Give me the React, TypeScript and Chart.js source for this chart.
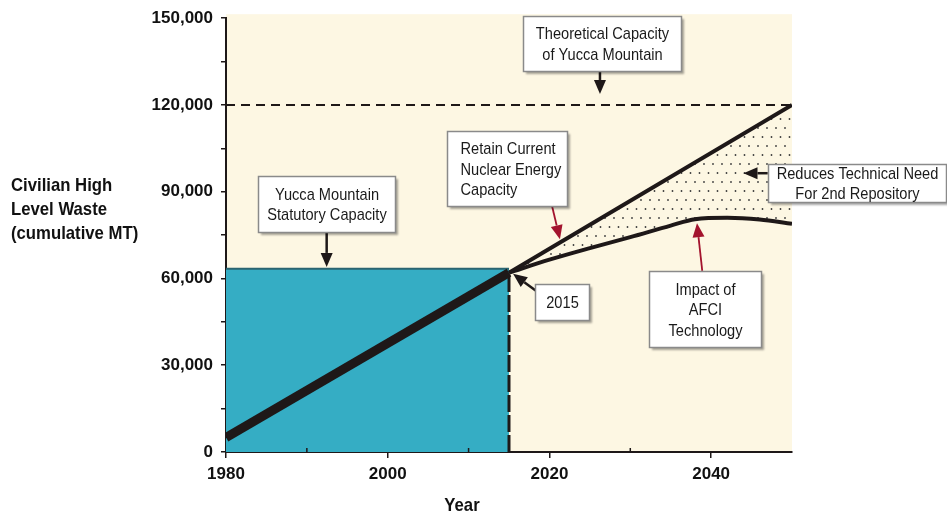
import React, { useEffect, useRef } from "react";
import { Chart, registerables } from "chart.js";

Chart.register(...registerables);

// ---- data ----
const historyYears = [1980, 2015];
const historyWaste = [5000, 62000];

const retainYears = [2015, 2050];
const retainWaste = [62000, 120000];

const afciYears = [2015, 2020, 2025, 2030, 2035, 2038, 2042, 2046, 2050];
const afciWaste = [62000, 66500, 70500, 74300, 78300, 80500, 81000, 80400, 78900];

const theoreticalYears = [1980, 2050];
const theoreticalCapacity = [120000, 120000];

const statutoryYears = [1980, 2015];
const statutoryCapacity = [63400, 63400];

const markerYears = [2015, 2015];
const markerWaste = [0, 62000];

const yLabelStep = 30000;
const xLabelYears = [1980, 2000, 2020, 2040];
const xMinorYears = [1990, 2010, 2030];

const yTitleLines = ["Civilian High", "Level Waste", "(cumulative MT)"];
const xTitle = "Year";

// annotations: box top-left anchored in data coords, arrow in data coords
const notes = [
  { lines: ["Theoretical Capacity", "of Yucca Mountain"], x: 2016.7, y: 150600, w: 158, h: 55, align: "center", from: [2026.25, 131700], to: [2026.25, 123800], red: false },
  { lines: ["Retain Current", "Nuclear Energy", "Capacity"], x: 2007.33, y: 111100, w: 120, h: 75, align: "left", from: [2020.3, 85300], to: [2021.3, 73600], red: true },
  { lines: ["Reduces Technical Need", "For 2nd Repository"], x: 2047.0, y: 99500, w: 178, h: 38, align: "center", from: [2047.0, 96400], to: [2044.0, 96400], red: false },
  { lines: ["Impact of", "AFCI", "Technology"], x: 2032.3, y: 62650, w: 112, h: 76, align: "center", from: [2038.9, 62650], to: [2038.25, 79100], red: true },
  { lines: ["2015"], x: 2018.2, y: 58100, w: 54, h: 36, align: "center", from: [2018.5, 55400], to: [2015.5, 61600], red: false },
  { lines: ["Yucca Mountain", "Statutory Capacity"], x: 1984.0, y: 95500, w: 137, h: 56, align: "center", from: [1992.45, 76400], to: [1992.45, 64000], red: false },
];

const FONT = "'Liberation Sans', Arial, sans-serif";
const INK = "#1e1818";
const CREAM = "#fdf7e3";
const TEAL = "#35adc4";
const RED = "#a3142e";

const pts = (xs: number[], ys: number[]) => xs.map((x, i) => ({ x, y: ys[i] }));

function makeDots(ctx: CanvasRenderingContext2D) {
  const c = document.createElement("canvas");
  c.width = 9;
  c.height = 18;
  const g = c.getContext("2d")!;
  g.fillStyle = CREAM;
  g.fillRect(0, 0, 9, 18);
  g.fillStyle = "#3c3c3c";
  g.beginPath();
  g.arc(2, 2, 0.9, 0, Math.PI * 2);
  g.arc(6.5, 11, 0.9, 0, Math.PI * 2);
  g.fill();
  return ctx.createPattern(c, "repeat");
}

function narrowText(ctx: CanvasRenderingContext2D, text: string, x: number, y: number, align: "left" | "center", sx: number) {
  ctx.save();
  ctx.translate(x, y);
  ctx.scale(sx, 1);
  ctx.textAlign = align;
  ctx.textBaseline = "middle";
  ctx.fillText(text, 0, 0);
  ctx.restore();
}

function arrow(ctx: CanvasRenderingContext2D, x1: number, y1: number, x2: number, y2: number, color: string, lw: number) {
  const a = Math.atan2(y2 - y1, x2 - x1);
  const hl = 14, hw = 12;
  const bx = x2 - hl * Math.cos(a);
  const by = y2 - hl * Math.sin(a);
  ctx.save();
  ctx.strokeStyle = color;
  ctx.fillStyle = color;
  ctx.lineWidth = lw;
  ctx.beginPath();
  ctx.moveTo(x1, y1);
  ctx.lineTo(bx, by);
  ctx.stroke();
  ctx.beginPath();
  ctx.moveTo(x2, y2);
  ctx.lineTo(bx + (hw / 2) * Math.sin(a), by - (hw / 2) * Math.cos(a));
  ctx.lineTo(bx - (hw / 2) * Math.sin(a), by + (hw / 2) * Math.cos(a));
  ctx.closePath();
  ctx.fill();
  ctx.restore();
}

const backgroundPlugin = {
  id: "creamBackground",
  beforeDraw(chart: any) {
    const { ctx, chartArea } = chart;
    ctx.save();
    ctx.fillStyle = CREAM;
    ctx.fillRect(chartArea.left, chartArea.top - 4, chartArea.right - chartArea.left, chartArea.bottom - chartArea.top + 4);
    ctx.restore();
  },
};

const notesPlugin = {
  id: "notes",
  afterDraw(chart: any) {
    const { ctx, scales, chartArea } = chart;
    const xs = scales.x, ys = scales.y;
    ctx.save();
    // minor x ticks pointing up
    ctx.strokeStyle = INK;
    ctx.lineWidth = 1.5;
    xMinorYears.forEach((yr) => {
      const px = xs.getPixelForValue(yr);
      ctx.beginPath();
      ctx.moveTo(px, chartArea.bottom);
      ctx.lineTo(px, chartArea.bottom - 4);
      ctx.stroke();
    });
    // titles
    ctx.fillStyle = "#111";
    ctx.font = `bold 19px ${FONT}`;
    yTitleLines.forEach((t, i) => narrowText(ctx, t, 11, 186 + i * 24, "left", 0.88));
    narrowText(ctx, xTitle, 462, 506, "center", 0.88);

    // annotations
    notes.forEach((n) => {
      const fx = xs.getPixelForValue(n.from[0]);
      const fy = ys.getPixelForValue(n.from[1]);
      const tx = xs.getPixelForValue(n.to[0]);
      const ty = ys.getPixelForValue(n.to[1]);
      arrow(ctx, fx, fy, tx, ty, n.red ? RED : INK, n.red ? 1.8 : 2.5);
    });
    notes.forEach((n) => {
      const bx = Math.round(xs.getPixelForValue(n.x)) + 0.5;
      const by = Math.round(ys.getPixelForValue(n.y)) + 0.5;
      ctx.save();
      ctx.shadowColor = "rgba(0,0,0,0.35)";
      ctx.shadowOffsetX = 2;
      ctx.shadowOffsetY = 2;
      ctx.shadowBlur = 2;
      ctx.fillStyle = "#ffffff";
      ctx.fillRect(bx, by, n.w, n.h);
      ctx.restore();
      ctx.strokeStyle = "#8a8a8a";
      ctx.lineWidth = 1.5;
      ctx.strokeRect(bx, by, n.w, n.h);
      ctx.fillStyle = "#1a1a1a";
      ctx.font = `17px ${FONT}`;
      const lh = 20.5;
      const cy = by + n.h / 2 + 1;
      n.lines.forEach((t, i) => {
        const y = cy + (i - (n.lines.length - 1) / 2) * lh;
        if (n.align === "left") narrowText(ctx, t, bx + 13, y, "left", 0.86);
        else narrowText(ctx, t, bx + n.w / 2, y, "center", 0.86);
      });
    });
    ctx.restore();
  },
};

export default function App() {
  const ref = useRef<HTMLCanvasElement>(null);
  useEffect(() => {
    const canvas = ref.current!;
    const ctx = canvas.getContext("2d")!;
    const dots = makeDots(ctx);
    const line = { pointRadius: 0, pointHoverRadius: 0, fill: false, tension: 0 };
    const chart = new Chart(ctx, {
      type: "line",
      data: {
        datasets: [
          { ...line, label: "history", data: pts(historyYears, historyWaste), borderColor: INK, borderWidth: 9, order: 1 },
          { ...line, label: "retain", data: pts(retainYears, retainWaste), borderColor: INK, borderWidth: 4, order: 2 },
          {
            ...line,
            label: "afci",
            data: pts(afciYears, afciWaste),
            borderColor: INK,
            borderWidth: 4,
            cubicInterpolationMode: "monotone",
            fill: 1,
            backgroundColor: dots,
            order: 3,
          },
          { ...line, label: "theoretical", data: pts(theoreticalYears, theoreticalCapacity), borderColor: INK, borderWidth: 2, borderDash: [9, 6], order: 4 },
          { ...line, label: "2015", data: pts(markerYears, markerWaste), borderColor: INK, borderWidth: 3, borderDash: [17, 3], order: 4 },
          {
            ...line,
            label: "statutory",
            data: pts(statutoryYears, statutoryCapacity),
            borderColor: "#2b6470",
            borderWidth: 2,
            fill: "origin",
            backgroundColor: TEAL,
            order: 10,
          },
        ],
      } as any,
      options: {
        animation: false,
        responsive: true,
        maintainAspectRatio: false,
        layout: { padding: { left: 0, right: 155, top: 16, bottom: 0 } },
        plugins: { legend: { display: false }, tooltip: { enabled: false } },
        scales: {
          x: {
            type: "linear",
            min: 1980,
            max: 2050,
            afterFit: (s: any) => {
              s.height = 65;
            },
            ticks: {
              stepSize: 10,
              autoSkip: false,
              maxRotation: 0,
              padding: 6,
              color: "#111",
              font: { family: FONT, size: 17, weight: "bold" },
              callback: (v: any) => (xLabelYears.includes(Number(v)) ? String(v) : ""),
            },
            grid: {
              drawOnChartArea: false,
              drawTicks: true,
              tickLength: 6,
              lineWidth: 1.5,
              color: (c: any) => (c.tick && xLabelYears.includes(c.tick.value) ? INK : "rgba(0,0,0,0)"),
            },
            border: { display: true, color: INK, width: 2 },
          },
          y: {
            type: "linear",
            min: 0,
            max: 150000,
            afterFit: (s: any) => {
              s.width = 226;
            },
            ticks: {
              stepSize: 15000,
              autoSkip: false,
              padding: 8,
              color: "#111",
              font: { family: FONT, size: 17, weight: "bold" },
              callback: (v: any) => (Number(v) % yLabelStep === 0 ? Number(v).toLocaleString("en-US") : ""),
            },
            grid: { drawOnChartArea: false, drawTicks: true, tickLength: 5, lineWidth: 1.5, color: INK },
            border: { display: true, color: INK, width: 2 },
          },
        },
      } as any,
      plugins: [backgroundPlugin, notesPlugin],
    });
    return () => chart.destroy();
  }, []);
  return (
    <div style={{ position: "fixed", left: 0, top: 0, width: 947, height: 517, background: "#fff" }}>
      <canvas ref={ref} />
    </div>
  );
}
